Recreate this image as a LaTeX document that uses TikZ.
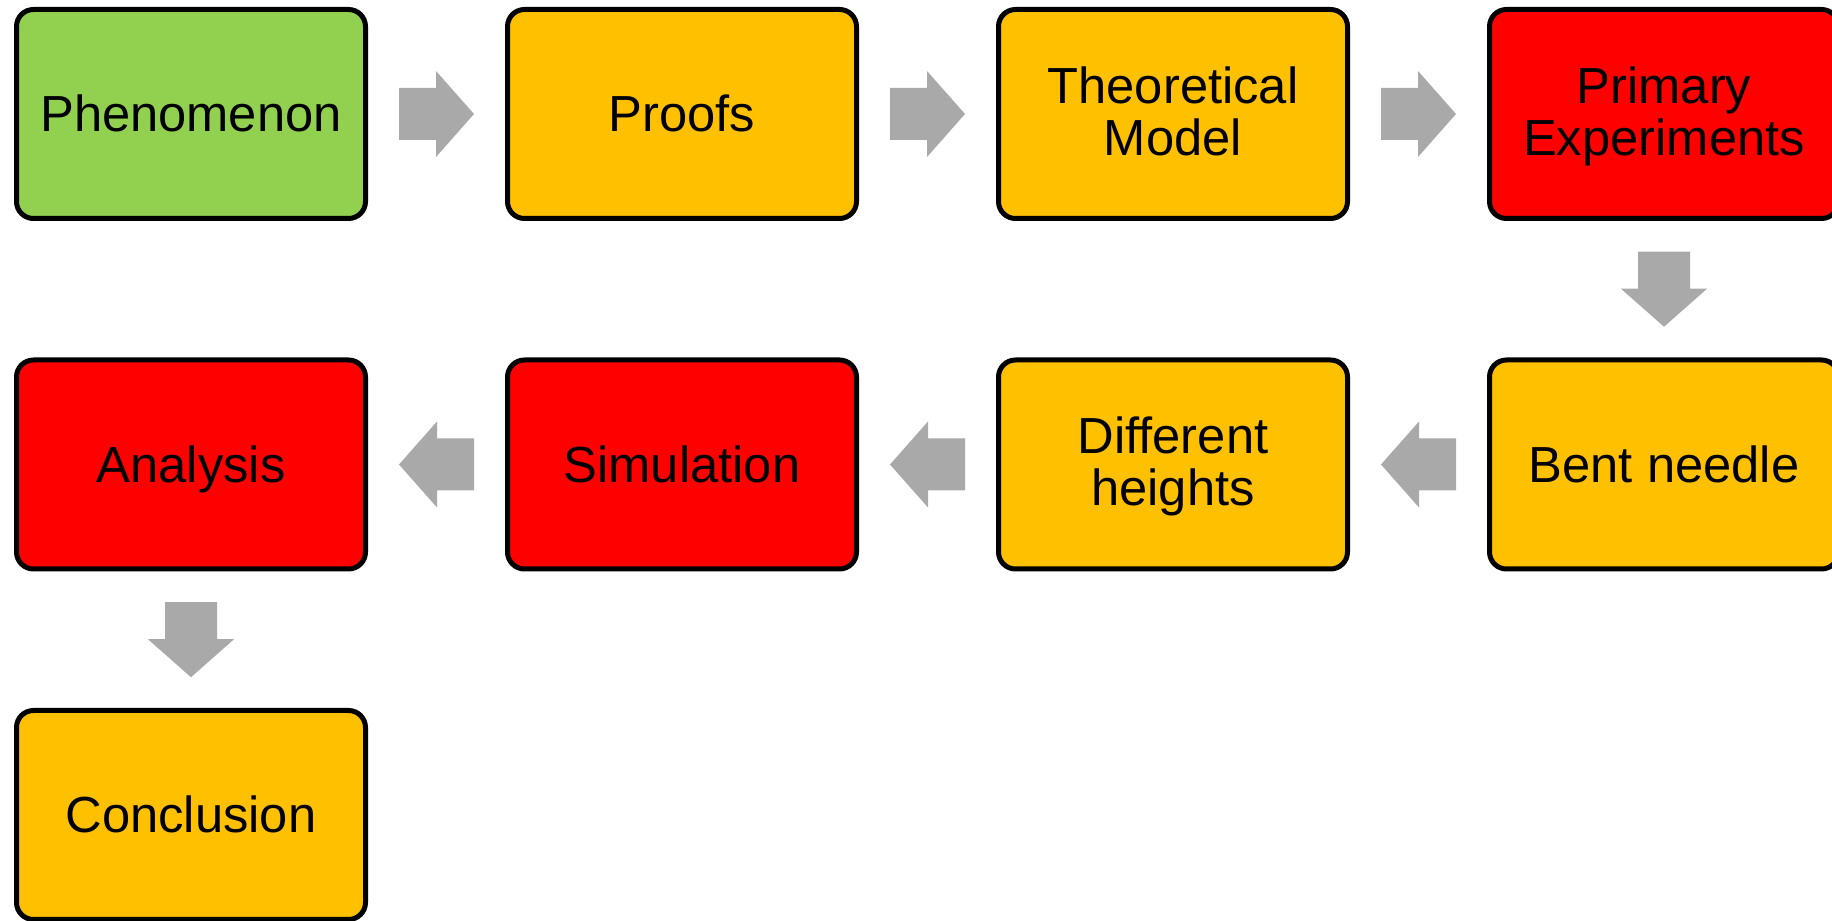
\documentclass[tikz,border=0pt]{standalone}
\usepackage{fontspec}
\setmainfont{Liberation Sans}
\usetikzlibrary{calc}
\definecolor{boxgreen}{HTML}{92D050}
\definecolor{boxorange}{HTML}{FFC000}
\definecolor{boxred}{HTML}{FF0000}
\definecolor{arrowgrey}{HTML}{A9A9A9}
\newcommand\boxstrut{\rule[-11pt]{0pt}{57.3pt}}
\newcommand\boxstrutlow{\rule[-16pt]{0pt}{62.3pt}}
\newcommand\boxfont{\fontsize{50.7}{52}\selectfont\setlength{\lineskiplimit}{-100pt}}
\newcommand\blockarrow[3]{%
  \begin{scope}[shift={($(#1)!0.5!(#2)$)}, rotate=#3]
    \fill[arrowgrey] (-37.5,-26) -- (-0.5,-26) -- (-0.5,-43) -- (37.5,0) -- (-0.5,43) -- (-0.5,26) -- (-37.5,26) -- cycle;
  \end{scope}}
\tikzset{
  stepbox/.style={draw=black, line width=5pt, rounded corners=17pt,
    minimum width=349pt, minimum height=209pt, inner sep=0pt,
    align=center, font=\boxfont},
  greenbox/.style={stepbox, fill=boxgreen},
  orangebox/.style={stepbox, fill=boxorange},
  redbox/.style={stepbox, fill=boxred}
}
\begin{document}
\begin{tikzpicture}[x=1pt,y=1pt]
\useasboundingbox (0,0) rectangle (1832,921);
\node[greenbox]  (n1) at (191,807)   {\boxstrut Phenomenon};
\node[orangebox] (n2) at (682,807)   {\boxstrut Proofs};
\node[orangebox] (n3) at (1173,807)  {\boxstrut Theoretical\\\boxstrutlow Model};
\node[redbox]    (n4) at (1664,807)  {\boxstrut Primary\\\boxstrutlow Experiments};
\node[orangebox] (n5) at (1664,456.5) {\boxstrut Bent needle};
\node[orangebox] (n6) at (1173,456.5) {\boxstrut Different\\\boxstrutlow heights};
\node[redbox]    (n7) at (682,456.5)  {\boxstrut Simulation};
\node[redbox]    (n8) at (191,456.5)  {\boxstrut Analysis};
\node[orangebox] (n9) at (191,106)    {\boxstrut Conclusion};
\blockarrow{n1.east}{n2.west}{0}
\blockarrow{n2.east}{n3.west}{0}
\blockarrow{n3.east}{n4.west}{0}
\blockarrow{n4.south}{n5.north}{-90}
\blockarrow{n5.west}{n6.east}{180}
\blockarrow{n6.west}{n7.east}{180}
\blockarrow{n7.west}{n8.east}{180}
\blockarrow{n8.south}{n9.north}{-90}
\end{tikzpicture}
\end{document}
